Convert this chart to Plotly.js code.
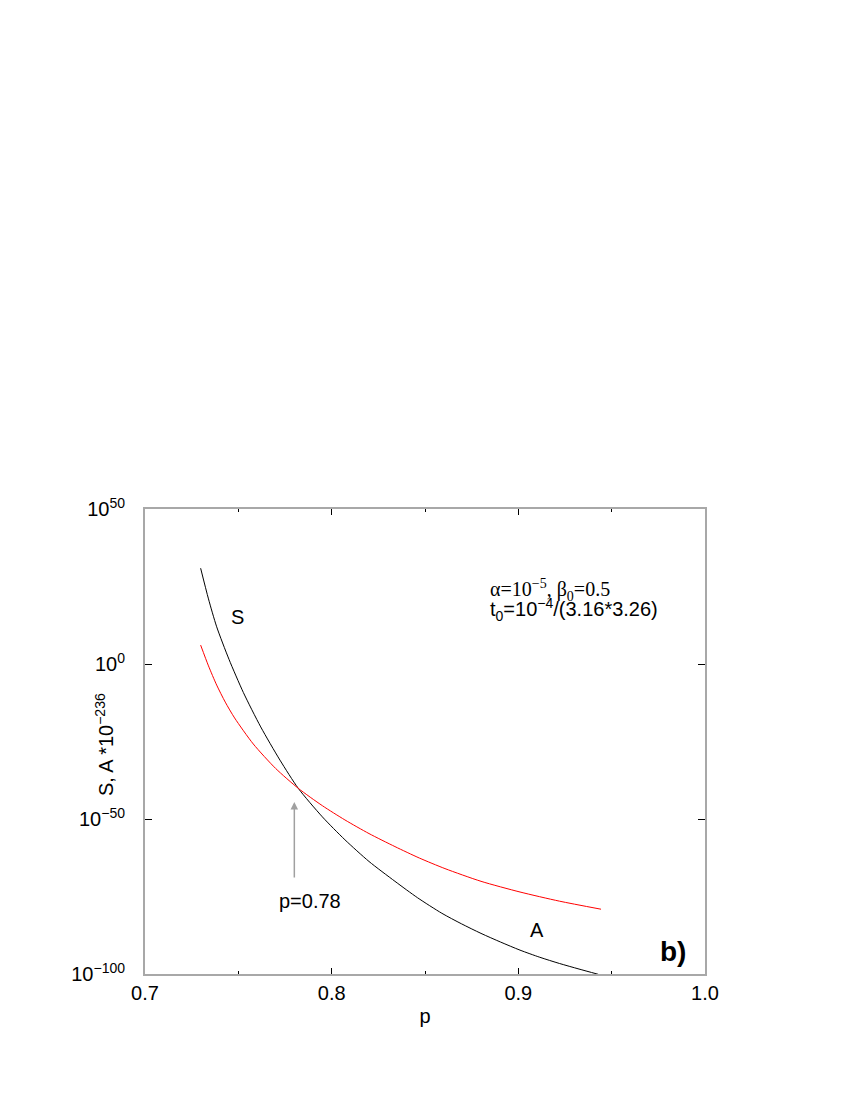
<!DOCTYPE html>
<html>
<head>
<meta charset="utf-8">
<script src="https://cdn.plot.ly/plotly-3.0.1.min.js"></script>
<style>
  body { margin: 0; background: #fff; }
  #plot { width: 850px; height: 1100px; }
</style>
</head>
<body>
<div id="plot"></div>
<script>
// values (exponents of ten)
var pS = [0.7298, 0.7340, 0.7384, 0.7450, 0.7527, 0.7620, 0.7723, 0.7821, 0.7950, 0.8071,
          0.8200, 0.8339, 0.8460, 0.8590, 0.8695, 0.8800, 0.8905, 0.9009, 0.9115, 0.9220,
          0.9325, 0.9428];
var logS = [30.9, 21.0, 12.0, 1.5, -9.2, -20.3, -31.0, -40.1, -49.3, -56.7,
            -63.7, -70.1, -75.4, -80.4, -83.8, -86.9, -89.7, -92.3, -94.6, -96.6,
            -98.4, -100.1];

var pA = [0.7298, 0.7340, 0.7384, 0.7430, 0.7480, 0.7580, 0.7700, 0.7821, 0.7950, 0.8071,
          0.8200, 0.8339, 0.8470, 0.8607, 0.8800, 0.9009, 0.9220, 0.9443];
var logA = [6.1, -0.6, -6.8, -12.3, -17.4, -25.8, -33.7, -40.1, -45.7, -50.3,
            -54.7, -58.9, -62.6, -66.0, -70.1, -73.55, -76.5, -79.1];

var xTicks = [0.7, 0.8, 0.9, 1.0];
var xTickText = ['0.7', '0.8', '0.9', '1.0'];
var yTicks = [1e-100, 1e-50, 1, 1e50];
var yTickText = ['10<sup>\u2212100</sup>', '10<sup>\u221250</sup>', '10<sup>0</sup>', '10<sup>50</sup>'];

function pow10(arr) {
  return arr.map(function (v) { return Math.pow(10, v); });
}

var traceS = {
  x: pS, y: pow10(logS),
  type: 'scatter', mode: 'lines',
  line: { color: '#000000', width: 1, shape: 'spline', smoothing: 0.7 },
  name: 'S'
};

var traceA = {
  x: pA, y: pow10(logA),
  type: 'scatter', mode: 'lines',
  line: { color: '#ff0000', width: 1, shape: 'spline', smoothing: 0.7 },
  name: 'A'
};

var fontSans = 'Liberation Sans, Arial, sans-serif';
var fontSerif = 'Liberation Serif, Times New Roman, serif';

var layout = {
  width: 850,
  height: 1100,
  showlegend: false,
  paper_bgcolor: '#ffffff',
  plot_bgcolor: '#ffffff',
  margin: { l: 145, r: 145, t: 509, b: 126 },
  font: { family: fontSans, size: 20, color: '#000' },
  xaxis: {
    range: [0.7, 1.0],
    tickvals: xTicks,
    ticktext: xTickText,
    ticks: 'inside',
    ticklen: 6,
    tickcolor: '#000',
    showline: true,
    linecolor: '#a8a8a8',
    linewidth: 2,
    mirror: 'ticks',
    showgrid: false,
    zeroline: false,
    minor: { dtick: 0.05, ticks: 'inside', ticklen: 3, tickcolor: '#000', showgrid: false },
    title: { text: 'p', font: { size: 20 }, standoff: 6 }
  },
  yaxis: {
    type: 'log',
    range: [-100, 50],
    tickvals: yTicks,
    ticktext: yTickText,
    ticks: 'inside',
    ticklen: 7,
    tickcolor: '#000',
    ticklabelstandoff: 14,
    showline: true,
    linecolor: '#a8a8a8',
    linewidth: 2,
    mirror: 'ticks',
    showgrid: false,
    zeroline: false
  },
  annotations: [
    // y axis title, placed close to the tick labels as in the original
    { xref: 'paper', yref: 'paper', x: -0.0714, y: 0.4925, xanchor: 'center', yanchor: 'middle',
      textangle: -90, text: 'S, A *10<sup>\u2212236</sup>', showarrow: false, font: { size: 20 } },
    { x: 0.7498, y: 15.2, text: 'S', showarrow: false, font: { size: 20 } },
    { x: 0.9100, y: -85.8, text: 'A', showarrow: false, font: { size: 20 } },
    { x: 0.7884, y: -76.5, text: 'p=0.78', showarrow: false, font: { size: 20 } },
    { x: 0.9909, y: -92.6, text: '<b>b)</b>', showarrow: false, xanchor: 'right', font: { size: 28 } },
    { x: 0.8838, y: 23.9, text: '\u03b1=10<sup>\u22125</sup>, \u03b2<sub>0</sub>=0.5', showarrow: false,
      xanchor: 'left', font: { family: fontSerif, size: 20 } },
    { x: 0.8838, y: 17.6, text: 't<sub>0</sub>=10<sup>\u22124</sup>/(3.16*3.26)', showarrow: false,
      xanchor: 'left', font: { size: 20 } },
    { x: 0.78, y: -44.5, ax: 0, ay: 77, text: '', showarrow: true,
      arrowhead: 2, arrowsize: 1, arrowwidth: 1.5, arrowcolor: '#a0a0a0' }
  ]
};

Plotly.newPlot('plot', [traceS, traceA], layout, { displayModeBar: false, staticPlot: true });
</script>
</body>
</html>
